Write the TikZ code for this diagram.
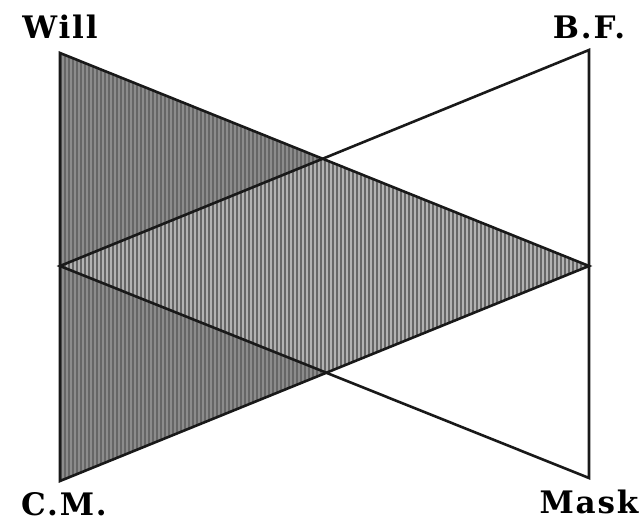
\documentclass[tikz,border=0pt]{standalone}
\usepackage{fontspec}
\newfontfamily\labfont{DejaVu Serif}[LetterSpace=6]
\usetikzlibrary{calc}

\begin{document}
\begin{tikzpicture}[
  x=1pt, y=-1pt,
  lab/.style={font=\labfont\bfseries\fontsize{31}{32}\selectfont, inner sep=0pt},
  edge/.style={line width=2.6pt, black!90, line join=miter},
  dark/.style={fill=black!45},
  light/.style={fill=black!30},
  hatch/.style={line width=1.2pt, black!60},
]
\useasboundingbox (0,0) rectangle (644,524);

% corners of the two triangles
\coordinate (will) at (60,53);
\coordinate (cm) at (60,481);
\coordinate (bf) at (589,50);
\coordinate (mask) at (589,478);
\coordinate (rapex) at (589,266);
\coordinate (lapex) at (60,266);
\coordinate (top) at (323,158);
\coordinate (bot) at (324,373);

% shading of the left triangle, lighter where they overlap
\fill[dark] (will) -- (cm) -- (rapex) -- cycle;
\fill[light] (lapex) -- (top) -- (rapex) -- (bot) -- cycle;
\begin{scope}
  \clip (will) -- (cm) -- (rapex) -- cycle;
  \foreach \x in {61,65,...,589}
    \draw[hatch] (\x,45) -- (\x,490);
\end{scope}

% outlines
\draw[edge] (will) -- (cm) -- (rapex) -- cycle;
\draw[edge] (bf) -- (mask) -- (lapex) -- cycle;

% labels
\node[lab] (willlab) at (60,27) {Will};
\node[lab] (bflab) at (589,27) {B.F.};
\node[lab] (cmlab) at (64,504) {C.M.};
\node[lab] (masklab) at (589,502) {Mask};
\end{tikzpicture}
\end{document}
